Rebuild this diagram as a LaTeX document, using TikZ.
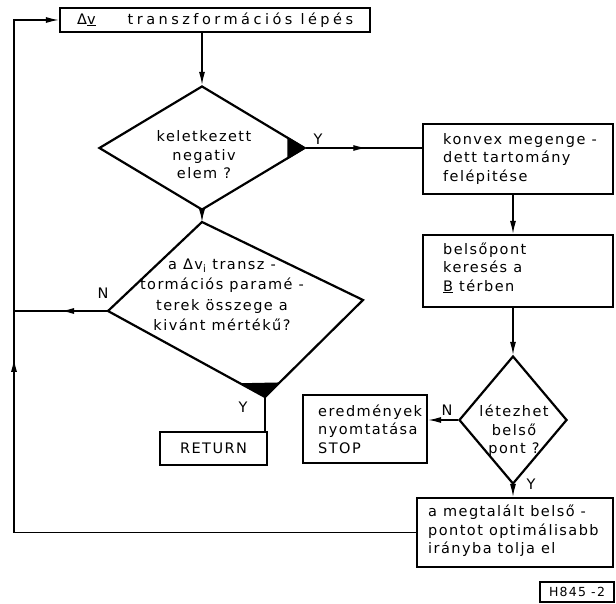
\documentclass[tikz,border=0pt]{standalone}
\usepackage{fontspec}
\setmainfont{DejaVu Sans}[LetterSpace=10]
\usetikzlibrary{shapes.geometric, positioning, arrows.meta, calc, decorations.markings}
\newcommand{\flowfont}{\fontsize{14.5}{18.5}\selectfont}
\tikzset{
    flowbox/.style={rectangle, draw, line width=2.2pt, inner sep=0pt, font=\flowfont},
    boxtext/.style={font=\flowfont, align=left, inner sep=0pt, anchor=west},
    decision/.style={diamond, draw, line width=2.2pt, inner sep=0pt},
    dtext/.style={align=center, font=\flowfont, inner sep=0pt},
    branch/.style={font=\flowfont, inner sep=0pt},
    conn/.style={line width=1.3pt},
    arr/.style={conn, -{Latex[length=13pt, width=6pt]}},
    midarr/.style={conn, postaction={decorate},
        decoration={markings, mark=at position #1 with {\arrow{Latex[length=13pt, width=6pt]}}}}
}

\begin{document}
\begin{tikzpicture}[x=1pt, y=-1pt]
    \useasboundingbox (0,0) rectangle (616,604);
    % boxes
    \node[flowbox, minimum width=310pt, minimum height=24pt] (move) at (215,20) {};
    \node[boxtext] (movet) at (77,20)
        {Δ\underline{v}\hspace{32pt}{\addfontfeature{LetterSpace=24}transzformációs lépés}};
    \node[flowbox, minimum width=190pt, minimum height=70pt] (konv) at (518,159) {};
    \node[boxtext] (konvt) at (443,159) {konvex megenge -\\dett tartomány\\felépitése};
    \node[flowbox, minimum width=190pt, minimum height=72pt] (bels) at (518,271) {};
    \node[boxtext] (belst) at (443,268) {belsőpont\\keresés a\\\underline{B} térben};
    \node[flowbox, minimum width=124pt, minimum height=68pt] (stop) at (365,429) {};
    \node[boxtext] (stopt) at (318,429) {eredmények\\nyomtatása\\STOP};
    \node[flowbox, minimum width=107pt, minimum height=33pt] (ret) at (213.5,448.5) {RETURN};
    \node[flowbox, minimum width=196pt, minimum height=69pt] (tolj) at (515,532.5) {};
    \node[boxtext] (toljt) at (428,531) {a megtalált belső -\\pontot optimálisabb\\irányba tolja el};
    \node[flowbox, line width=1.2pt, minimum width=74pt, minimum height=20pt,
        font=\fontsize{12.5}{14}\selectfont] (tag) at (577,592) {H845 -2};

    % decisions
    \node[decision, minimum width=206pt, minimum height=124pt] (neg) at (202,148) {};
    \node[dtext] (negt) at (204,155) {keletkezett\\negativ\\elem ?};
    \fill ($(neg.east)!0.18!(neg.north)$) -- (neg.east) -- ($(neg.east)!0.18!(neg.south)$) -- cycle;

    \coordinate (sumT) at (202,222);
    \coordinate (sumR) at (363,300);
    \coordinate (sumB) at (265,397);
    \coordinate (sumL) at (108,311);
    \draw[line width=2.2pt] (sumT) -- (sumR) -- (sumB) -- (sumL) -- cycle;
    \node[dtext, font=\fontsize{14.5}{20.5}\selectfont] (sumt) at (222,295)
        {a Δv\textsubscript{i} transz -\\tormációs paramé -\\terek összege a\\kivánt mértékű?};
    \fill ($(sumB)!0.16!(sumL)$) -- (sumB) -- ($(sumB)!0.15!(sumR)$) -- cycle;

    \node[decision, minimum width=108pt, minimum height=128pt] (ex) at (513,420) {};
    \node[dtext] (ext) at (514,431) {létezhet\\belső\\pont ?};

    % connectors
    \coordinate (fbtop) at (14,20);
    \draw[arr] (move.south -| neg.north) -- (neg.north);
    \draw[arr] (neg.south) -- (sumT);
    \draw[midarr=0.52] (neg.east) -- (neg.east -| konv.west);
    \draw[arr] (konv.south -| ex.north) -- (bels.north -| ex.north);
    \draw[arr] (bels.south -| ex.north) -- (ex.north);
    \draw[arr] (ex.west) -- (ex.west -| stop.east);
    \draw[arr] (ex.south) -- (ex.south |- tolj.north);
    \draw[conn] (sumB) -- (sumB |- ret.north);
    \draw[midarr=0.5] (sumL) -- (sumL -| fbtop);
    \draw[midarr=0.6, arr] (tolj.west) -| (fbtop) -- (move.west);

    % branch labels
    \node[branch] at (318,139) {Y};
    \node[branch] at (103,293) {N};
    \node[branch] at (243,407) {Y};
    \node[branch] at (447,410) {N};
    \node[branch] at (531,484) {Y};
\end{tikzpicture}
\end{document}
